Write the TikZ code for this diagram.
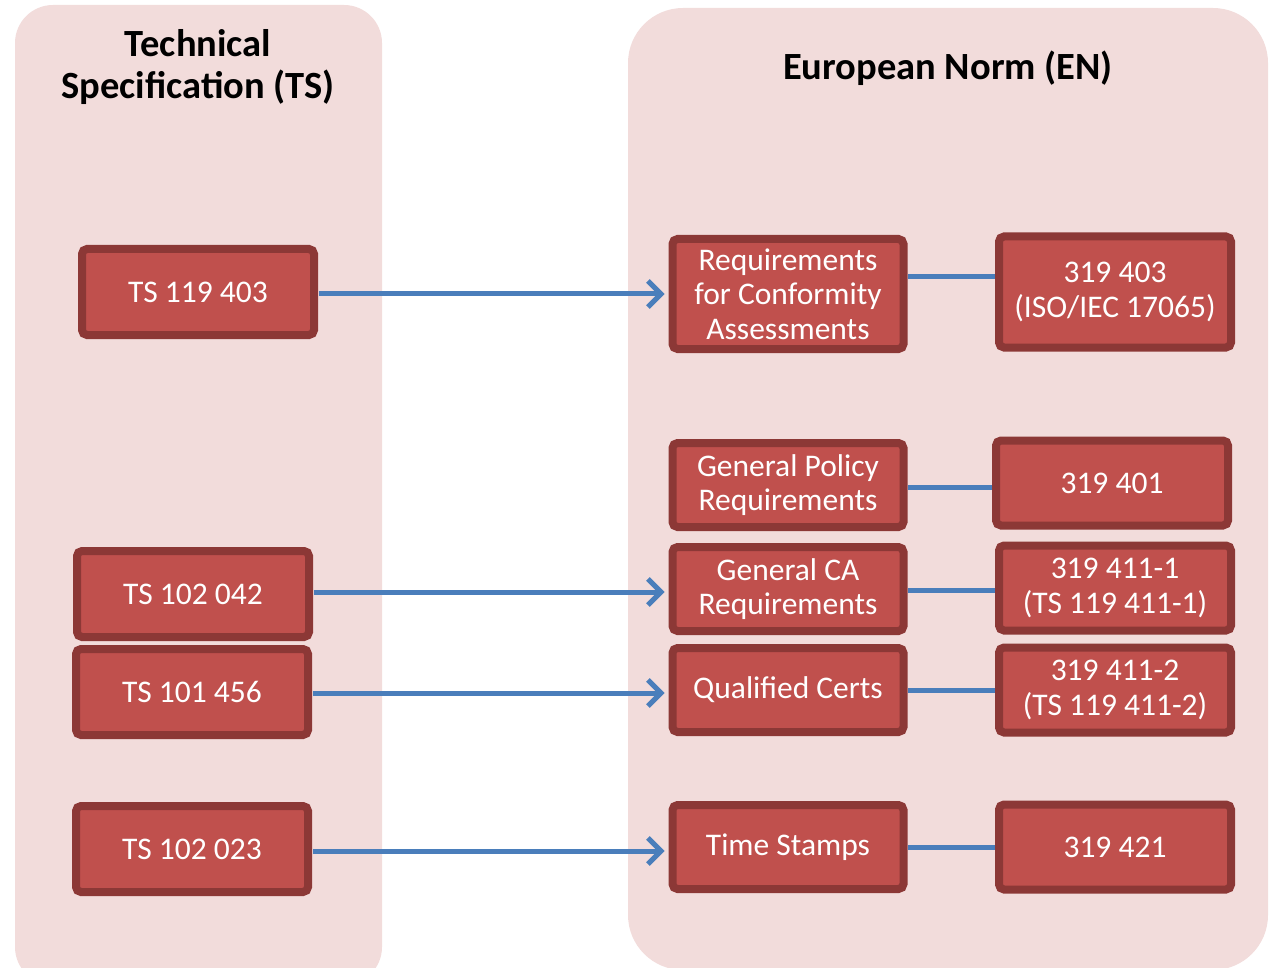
\documentclass[tikz,border=0pt]{standalone}
\usepackage{fontspec}
\setmainfont{Carlito}
\usetikzlibrary{arrows.meta,positioning}

\definecolor{panelbg}{HTML}{F2DCDB}
\definecolor{boxfill}{HTML}{C0504D}
\definecolor{boxline}{HTML}{8C3836}
\definecolor{linkblue}{HTML}{4A7EBB}

\begin{document}
\begin{tikzpicture}[%
    x=1pt, y=-1pt,              % pixel-like units, y grows downwards
    >={Straight Barb[length=13pt,width=26pt]},
    ]
% -------------------------------------------------
% Styles for panels, boxes and connectors
\tikzset{
  panel/.style={fill=panelbg, rounded corners=#1},
  title/.style={font=\bfseries\fontsize{38.5}{42}\selectfont, align=center},
  base/.style={draw=boxline, fill=boxfill, line width=8pt, rounded corners=5pt,
    text=white, align=center, inner sep=0pt,
    font=\fontsize{31.5}{34.5}\selectfont},
  tsbox/.style={base, minimum width=232pt, minimum height=86pt},
  midbox/.style={base, minimum width=231pt, minimum height=84pt},
  enbox/.style={base, minimum width=232pt, minimum height=85pt},
  feed/.style={->, draw=linkblue, line width=5pt, shorten <=1pt, shorten >=4pt},
  link/.style={draw=linkblue, line width=5pt, shorten <=0.5pt, shorten >=0.5pt}
}
\clip (0,0) rectangle (1277,968);
% -------------------------------------------------
% The two background panels
\fill [panel=38pt] (15,5) rectangle (382,985);
\fill [panel=55pt] (628,8) rectangle (1268,970);
\node [title] (tstitle) at (198,67) {Technical\\Specification (TS)};
\node [title] (entitle) at (948,68) {European Norm (EN)};

% -------------------------------------------------
% Technical specifications on the left
\node [tsbox] (ts1) at (198,292) {TS 119 403};
\node [tsbox] (ts2) at (193,594) {TS 102 042};
\node [tsbox] (ts3) at (192,692) {TS 101 456};
\node [tsbox] (ts4) at (192,849) {TS 102 023};

% -------------------------------------------------
% European norm topics in the middle
\node [midbox, minimum height=110pt] (req) at (788,294)
  {Requirements\\for Conformity\\Assessments};
\node [midbox] (policy) at (788,485) {General Policy\\Requirements};
\node [midbox] (ca)     at (788,589) {General CA\\Requirements};
\node [midbox] (certs)  at (788,690) {Qualified Certs};
\node [midbox] (stamps) at (788,847) {Time Stamps};

% -------------------------------------------------
% European norm numbers on the right
\node [enbox, minimum height=111pt] (en1) at (1115,292) {319 403\\(ISO/IEC 17065)};
\node [enbox] (en2) at (1112,483) {319 401};
\node [enbox] (en3) at (1115,588) {319 411-1\\(TS 119 411-1)};
\node [enbox] (en4) at (1115,690) {319 411-2\\(TS 119 411-2)};
\node [enbox] (en5) at (1115,847) {319 421};

% -------------------------------------------------
% Connectors
\draw [feed] ([yshift=-2pt]ts1.east) -- ([yshift=-2pt]ts1.east -| req.west);
\draw [feed] ([yshift=2pt]ts2.east) -- ([yshift=2pt]ts2.east -| ca.west);
\draw [feed] ([yshift=-1pt]ts3.east) -- ([yshift=-1pt]ts3.east -| certs.west);
\draw [feed] ([yshift=-2pt]ts4.east) -- ([yshift=-2pt]ts4.east -| stamps.west);

\draw [link] ([yshift=17pt]req.east) -- ([yshift=17pt]req.east -| en1.west);
\draw [link] ([yshift=-2pt]policy.east) -- ([yshift=-2pt]policy.east -| en2.west);
\draw [link] ([yshift=-1pt]ca.east) -- ([yshift=-1pt]ca.east -| en3.west);
\draw [link] (certs.east) -- (certs.east -| en4.west);
\draw [link] (stamps.east) -- (stamps.east -| en5.west);

% -------------------------------------------------
\end{tikzpicture}
\end{document}
